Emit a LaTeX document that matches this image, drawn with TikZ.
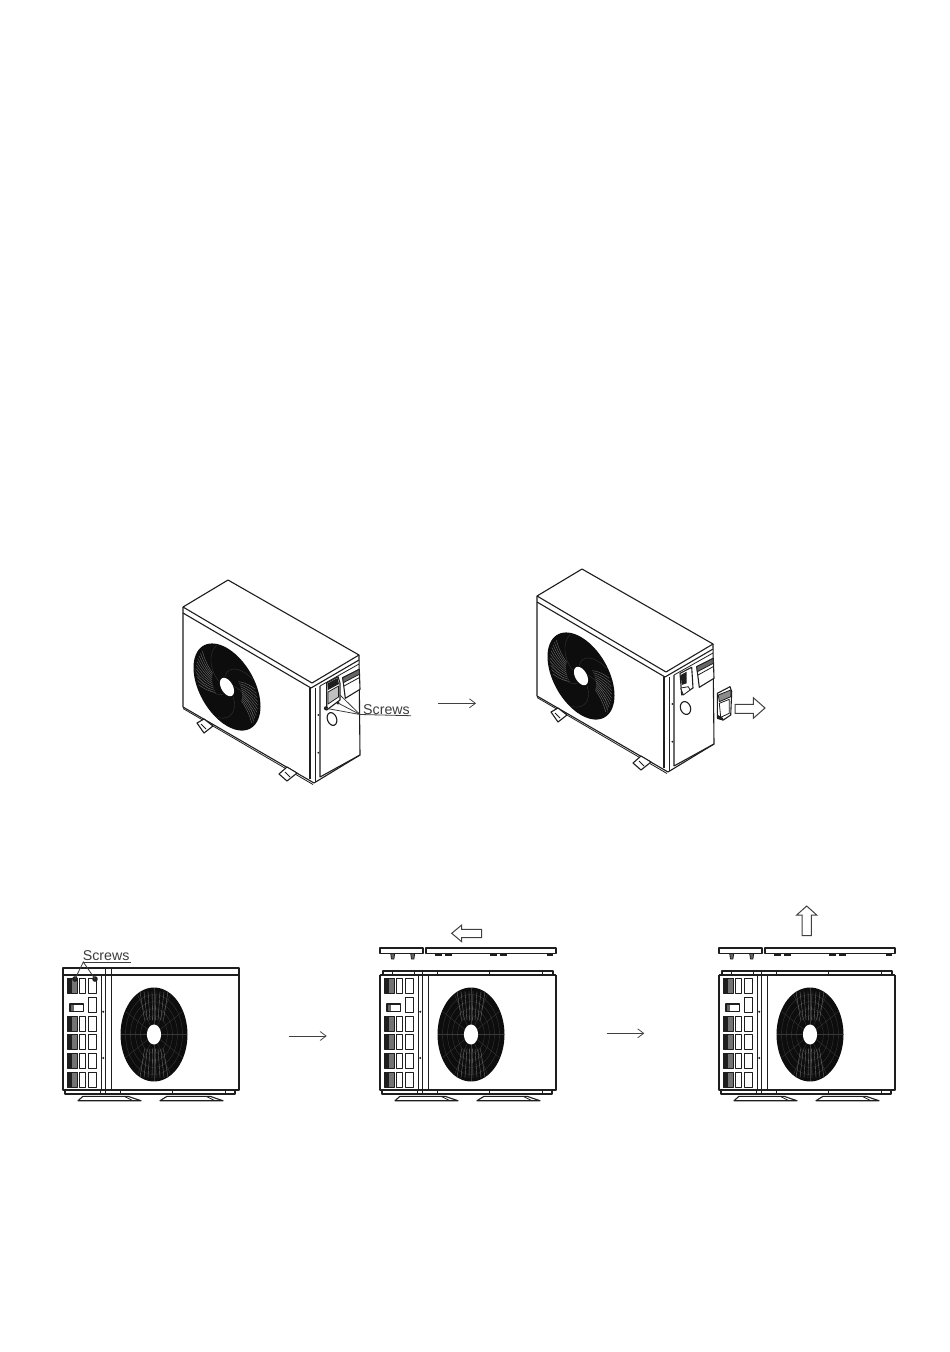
\documentclass[tikz,border=0pt]{standalone}
\usepackage{fontspec}
\setmainfont{Liberation Sans}
\usetikzlibrary{arrows.meta}
\definecolor{ink}{HTML}{1E1E1E}
\definecolor{labelgrey}{HTML}{3C3C3C}
\tikzset{
  x=1pt,y=-1pt,
  unitline/.style={draw=ink,line width=1.1pt,line join=round},
  fineline/.style={draw=ink,line width=0.8pt,line join=round},
  flowarrow/.style={draw=ink!85,line width=0.75pt,-{Straight Barb[length=6pt,width=9pt,line width=0.75pt]}},
  hollowarrow/.style={draw=ink!85,line width=1pt,fill=white,line join=miter},
  leader/.style={draw=labelgrey,line width=0.8pt},
  screwlabel/.style={anchor=base west,inner sep=0pt,text=labelgrey,font=\fontsize{14.2}{16}\selectfont},
  swirl/.style={draw=black!78,line width=0.35pt},
  swirlhi/.style={draw=black!55,line width=0.35pt},
}
\newcommand{\isofan}{%
  \path[fill=black!95] plot[domain=0:360,samples=72,smooth] ({cos(\x)},{sin(\x)}) -- cycle;
  \foreach \t in {20,92,164,236,308}{
    \draw[swirl] plot[domain=0.25:0.97,samples=8,smooth] ({\x*cos(\t+90*\x)},{\x*sin(\t+90*\x)});
  }
  \foreach \t in {120,126,...,180}{
    \draw[swirlhi] plot[domain=0.45:0.92,samples=6,smooth] ({\x*cos(\t+40*\x)},{\x*sin(\t+40*\x)});
  }
  \foreach \t in {-60,-54,...,0}{
    \draw[swirlhi] plot[domain=0.45:0.92,samples=6,smooth] ({\x*cos(\t+40*\x)},{\x*sin(\t+40*\x)});
  }
  \path[fill=white] plot[domain=0:360,samples=36,smooth] ({0.21*cos(\x)},{0.21*sin(\x)}) -- cycle;
}
\newcommand{\flatfan}{%
  \path[fill=black!95] plot[domain=0:360,samples=72,smooth] ({cos(\x)},{sin(\x)}) -- cycle;
  \foreach \r in {0.4,0.55,0.7,0.85}{
    \draw[swirl] plot[domain=0:360,samples=40,smooth] ({\r*cos(\x)},{\r*sin(\x)}) -- cycle;
  }
  \foreach \t in {30,60,...,360}{
    \draw[swirl] (\t:0.2) -- (\t:0.98);
  }
  \foreach \dx in {-0.28,-0.2,...,0.29}{
    \draw[swirlhi] (\dx,0.3) -- (1.5*\dx,0.92);
    \draw[swirlhi] (\dx,-0.3) -- (1.5*\dx,-0.92);
  }
  \path[fill=white] plot[domain=0:360,samples=36,smooth] ({0.21*cos(\x)},{0.21*sin(\x)}) -- cycle;
}
\newcommand{\isounit}{%
  \path[unitline,fill=white] (183,607) -- (228,580) -- (359,655) -- (360,755) -- (314,783) -- (183,707) -- cycle;
  \draw[unitline] (183,607) -- (312,683) -- (359,655);
  \draw[unitline] (183,613) -- (311,688) -- (359,660);
  \draw[fineline] (320,686) -- (359,664);
  \draw[unitline] (310,688) -- (310,779);
  \draw[fineline] (315.7,688) -- (315.7,782);
  \draw[unitline] (320,686) -- (320,777) -- (360,755);
  \draw[fineline] (183,708.5) -- (313,784.5);
  \fill[ink] (318.3,715) circle (1);
  \fill[ink] (318.3,752.7) circle (1);
  % feet
  \path[unitline,fill=white] (197,723) -- (204,719) -- (213,726) -- (204,733) -- cycle;
  \draw[fineline] (201,724) -- (206,729);
  \path[unitline,fill=white] (279,774) -- (287,767) -- (297,773) -- (287,781) -- cycle;
  \draw[fineline] (285,772) -- (290,777);
  % fan
  \begin{scope}[shift={(227,687)},x={(33.5pt,-19.4pt)},y={(0pt,-39pt)}]
    \isofan
  \end{scope}
  % outlet flap
  \path[unitline,fill=white] (342.7,677.7) -- (359.3,669.3) -- (360,689.3) -- (345.3,698.3) -- cycle;
  \path[fineline,fill=black!60] (342.7,677.7) -- (359.3,669.3) -- (359.3,674.3) -- (343.3,682.7) -- cycle;
  \draw[fineline] (344,686) -- (359.5,677.5);
}
\newcommand{\grillerow}[1]{%
  \path[fineline,fill=black!55] (67.7,#1) rectangle (77.7,#1+15);
  \path[fill=ink] (67.7,#1) rectangle (72.3,#1+15);
  \draw[fineline] (79,#1) rectangle (85.7,#1+15);
  \draw[fineline] (88.3,#1) rectangle (96.7,#1+15);
}
\newcommand{\flatbody}{%
  \draw[unitline] (63,975) -- (63,1090) -- (239,1090) -- (239,975);
  \draw[fineline] (101.7,975) -- (101.7,1090);
  \draw[fineline] (105,975) -- (105,1090);
  \draw[fineline] (111,975) -- (111,1090);
  \draw[unitline] (65,1090) -- (65,1094) -- (235,1094) -- (235,1090);
  \foreach \bx in {100,105,120,172,225}{\draw[fineline] (\bx,1090) -- (\bx,1094);}
  \foreach \gy in {978,1016,1034.3,1053.3,1072.3}{\grillerow{\gy}}
  \draw[fineline] (88.3,997) rectangle (96.7,1012);
  \draw[unitline] (70,1004) rectangle (83.3,1011.7);
  \path[fill=black!60] (70.5,1004.5) rectangle (74,1011.2);
  \fill[ink] (103.3,1011.7) circle (1.1);
  \fill[ink] (103.3,1058) circle (1.1);
  % feet
  \path[unitline,fill=white] (78,1100.7) -- (83,1096.3) -- (128,1096.3) -- (141,1100.7) -- cycle;
  \draw[fineline] (124,1096.3) -- (133,1100.7);
  \path[unitline,fill=white] (160,1100.7) -- (167,1096.3) -- (210,1096.3) -- (223,1100.7) -- cycle;
  \draw[fineline] (206,1096.3) -- (215,1100.7);
  \begin{scope}[shift={(154,1034.5)},x={(33.5pt,0pt)},y={(0pt,-47pt)}]
    \flatfan
  \end{scope}
}
\newcommand{\liftedlid}{%
  \draw[unitline] (63,948) rectangle (106,953.5);
  \draw[unitline] (109,948) rectangle (239,953.5);
  \foreach \lx in {75.7,95.7}{
    \path[fineline,fill=black!60] (\lx-2,953.5) -- (\lx+2,953.5) -- (\lx+1.2,959) -- (\lx-1.2,959) -- cycle;
  }
  \foreach \la/\lb in {118/124.7,128/135,173/180,183/190,230/236}{
    \path[fill=ink] (\la,953.5) rectangle (\lb,955.5);
  }
  \draw[unitline] (66,975) -- (66,971) -- (236,971) -- (236,975);
  \draw[unitline] (63,975) -- (239,975);
  \foreach \bx in {75,97,105,120,172,225}{\draw[fineline] (\bx,971) -- (\bx,975);}
}
\begin{document}
\begin{tikzpicture}
\useasboundingbox (0,0) rectangle (950,1352);
\path[fill=white] (0,0) rectangle (950,1352);

% --- first oblique unit ---
\isounit
\path[unitline,fill=white] (326.7,683) -- (338,676.7) -- (340,683) -- (340,700) -- (326.7,710) -- cycle;
\path[fill=ink] (327.5,683.5) -- (337.5,678) -- (339,684) -- (328,690) -- cycle;
\path[fineline,fill=black!25] (328,692) -- (338.5,686) -- (338.5,697) -- (328,704) -- cycle;
\draw[unitline,rotate around={20:(332,719)}] (332,719) ellipse [x radius=4.6,y radius=6.6];
\fill[ink] (326,708.3) circle (2.1);
\fill[ink] (338,703) circle (1.7);
\node[screwlabel] (screwsa) at (363,714) {Screws};
\coordinate (screwsaleft) at (360,714.5);
\coordinate (screwaone) at (326,708.3);
\coordinate (screwatwo) at (338,703);
\coordinate (screwathree) at (340,695);
\coordinate (screwsaend) at (411,715.7);
\draw[leader] (screwsaleft) -- (screwsaend);
\draw[leader] (screwsaleft) -- (screwaone);
\draw[leader] (screwsaleft) -- (screwatwo);
\draw[leader] (screwsaleft) -- (screwathree);
\coordinate (flowaa) at (438.3,703.3);
\coordinate (flowab) at (476,703.3);
\draw[flowarrow] (flowaa) -- (flowab);

% --- second oblique unit ---
\begin{scope}[shift={(354,-11)}]
  \isounit
  \draw[unitline,rotate around={20:(331.5,719)}] (331.5,719) ellipse [x radius=5,y radius=6.6];
\end{scope}
\path[unitline,fill=white] (680,673.3) -- (691.7,667.3) -- (693,688) -- (681.7,695) -- cycle;
\path[fill=ink] (680.7,675) -- (686.7,671.7) -- (686.7,683.3) -- (681.7,685) -- cycle;
\path[fineline,fill=white] (680.7,688) -- (688.3,686.7) -- (690,690) -- (683.3,695) -- cycle;
% removed handle
\path[unitline,fill=white] (717.3,693.3) -- (730,686.7) -- (731.7,691.7) -- (730.7,715) -- (723.3,720) -- (717.3,718.3) -- cycle;
\path[fineline,fill=black!45] (718.3,695) -- (730.7,690) -- (730.7,696.7) -- (719.3,701.7) -- cycle;
\path[fineline,fill=white] (719.3,703.3) -- (729.3,699.3) -- (729.3,713.3) -- (720.7,717.3) -- cycle;
\path[fill=ink] (718,715) -- (723,718) -- (723,720.5) -- (717.5,718.5) -- cycle;
\path[hollowarrow] (735,704.3) -- (753.3,704.3) -- (753.3,697.7) -- (765,708) -- (753.3,718.3) -- (753.3,713.3) -- (735,713.3) -- cycle;

% --- left front unit ---
\flatbody
\draw[unitline] (63,968) rectangle (239,975);
\draw[fineline] (105,968) -- (105,975);
\draw[fineline] (111,968) -- (111,975);
\node[screwlabel] (screwsb) at (82.7,960.3) {Screws};
\coordinate (screwsbleft) at (83.3,962);
\coordinate (screwsbend) at (131,962);
\coordinate (screwbone) at (75,979);
\coordinate (screwbtwo) at (95,979);
\fill[ink] (screwbone) circle (2.8);
\fill[ink] (screwbtwo) circle (2.8);
\draw[leader] (screwsbleft) -- (screwsbend);
\draw[leader] (screwbone) -- (screwsbleft) -- (screwbtwo);
\coordinate (flowba) at (288.7,1036);
\coordinate (flowbb) at (326.7,1036);
\draw[flowarrow] (flowba) -- (flowbb);

% --- middle front unit ---
\begin{scope}[shift={(317,0)}]
  \flatbody
  \liftedlid
\end{scope}
\path[hollowarrow] (451.7,933.3) -- (461.7,925) -- (461.7,929.3) -- (481.7,929.3) -- (481.7,937.7) -- (461.7,937.7) -- (461.7,941.7) -- cycle;
\coordinate (flowca) at (606.7,1033.3);
\coordinate (flowcb) at (644.3,1033.3);
\draw[flowarrow] (flowca) -- (flowcb);

% --- right front unit ---
\begin{scope}[shift={(656,0)}]
  \flatbody
  \liftedlid
\end{scope}
\path[hollowarrow] (806.7,906) -- (816.7,915) -- (811.3,915) -- (811.3,935.7) -- (802,935.7) -- (802,915) -- (796.7,915) -- cycle;
\end{tikzpicture}
\end{document}
